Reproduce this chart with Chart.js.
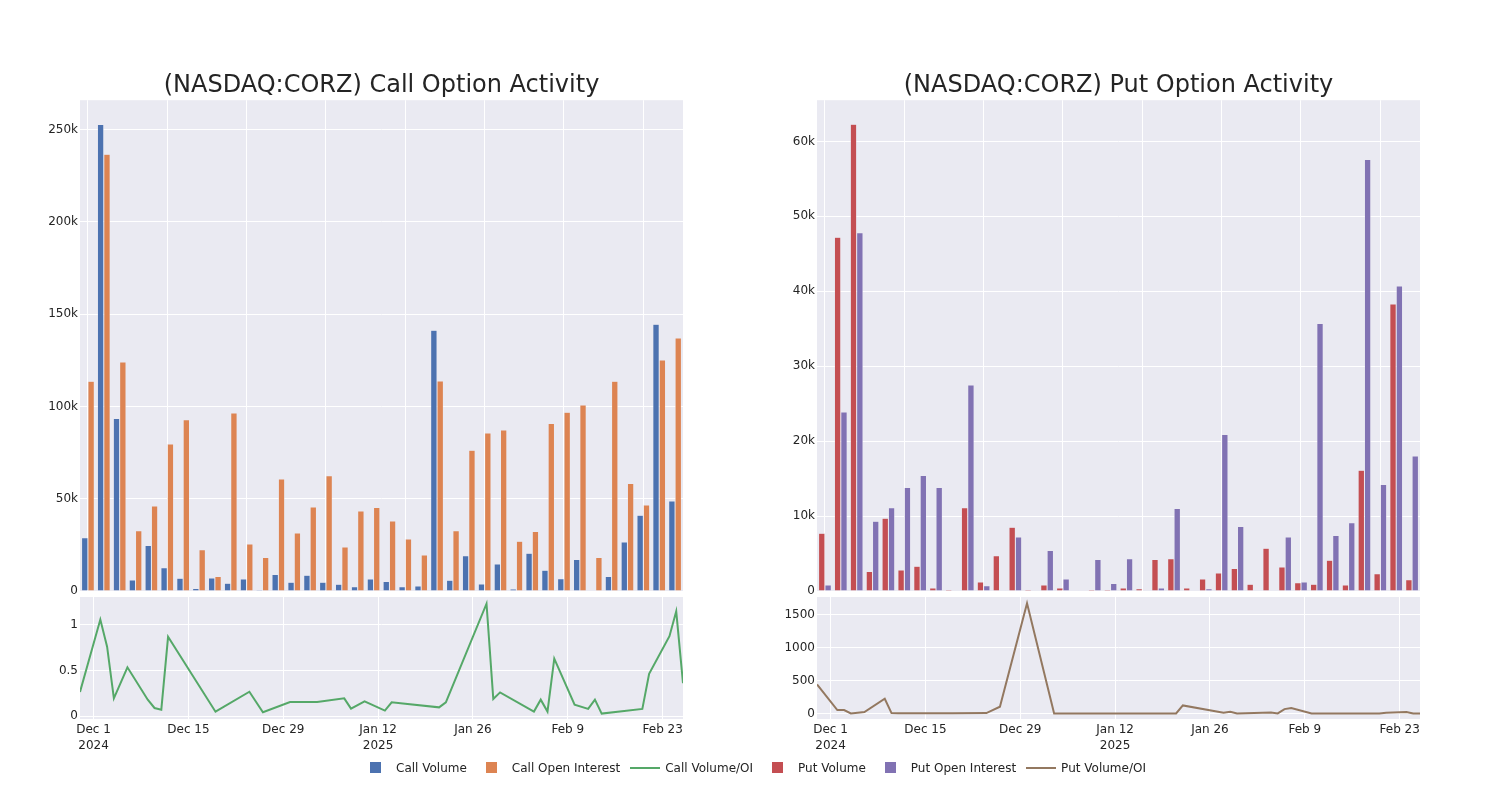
<!DOCTYPE html>
<html lang="en">
<head>
    <meta charset="UTF-8">
    <title>(NASDAQ:CORZ) Option Activity</title>
    <style>
        body {
            margin: 0;
            background: #fff;
            font-family: "DejaVu Sans", sans-serif;
            color: #242424;
        }

        #page {
            position: relative;
            width: 1500px;
            height: 800px;
        }

        canvas {
            position: absolute;
        }

        #legend {
            position: absolute;
            left: 356px;
            top: 758px;
            height: 20px;
            display: flex;
            align-items: center;
            font-size: 12px;
            white-space: nowrap;
        }

        .item {
            display: flex;
            align-items: center;
            margin-right: 5px;
        }

        .sym {
            position: relative;
            width: 40px;
            height: 16px;
        }

        .sym i {
            position: absolute;
        }

        .sym i.box {
            left: 14px;
            top: 2px;
            width: 11px;
            height: 11px;
        }

        .sym i.line {
            left: 5px;
            top: 7px;
            width: 30px;
            height: 2px;
        }
    </style>
</head>
<body>
    <div id="page">
        <canvas id="callBars" width="700" height="560" style="left:0;top:50px"></canvas>
        <canvas id="callLine" width="700" height="190" style="left:0;top:570px"></canvas>
        <canvas id="putBars" width="700" height="560" style="left:737px;top:50px"></canvas>
        <canvas id="putLine" width="700" height="190" style="left:737px;top:570px"></canvas>
        <div id="legend"></div>
    </div>

    <script src="https://cdn.jsdelivr.net/npm/chart.js"></script>
    <script>
        // trading dates shown in the charts
        const dates = [
            '2024-11-29', '2024-12-02', '2024-12-03', '2024-12-04', '2024-12-06', '2024-12-09',
            '2024-12-10', '2024-12-11', '2024-12-12', '2024-12-19', '2024-12-24', '2024-12-26',
            '2024-12-30', '2025-01-03', '2025-01-07', '2025-01-08', '2025-01-10', '2025-01-13',
            '2025-01-14', '2025-01-16', '2025-01-21', '2025-01-22', '2025-01-28', '2025-01-29',
            '2025-01-30', '2025-02-04', '2025-02-05', '2025-02-06', '2025-02-07', '2025-02-10',
            '2025-02-12', '2025-02-13', '2025-02-14', '2025-02-20', '2025-02-21', '2025-02-24',
            '2025-02-25', '2025-02-26'
        ];

        const callVolume = [
            28900, 252700, 93400, 6000, 24700, 12600, 6900, 1300, 7000, 4200, 6500, 500,
            9000, 4700, 8500, 4700, 3600, 2300, 6500, 5100, 2300, 2700, 141200, 5800,
            19100, 3800, 14600, 1100, 20400, 11200, 6700, 17000, 400, 7800, 26500, 41000,
            144500, 48800
        ];
        const callOpenInterest = [
            113600, 236600, 124100, 32700, 46100, 79600, 92800, 22400, 7900, 96400, 25500, 18100,
            60700, 31400, 45500, 62500, 23800, 43300, 45300, 37900, 28200, 19500, 113800, 32700,
            76200, 85600, 87200, 26900, 32300, 90700, 96800, 100800, 18100, 113600, 58300, 46600,
            125200, 137100
        ];
        const callRatio = [
            0.264, 1.054, 0.758, 0.195, 0.534, 0.18, 0.09, 0.072, 0.866, 0.05, 0.267, 0.043,
            0.155, 0.155, 0.195, 0.083, 0.162, 0.062, 0.152, 0.135, 0.097, 0.152, 1.227, 0.188,
            0.26, 0.051, 0.181, 0.051, 0.628, 0.127, 0.08, 0.181, 0.029, 0.08, 0.462, 0.873,
            1.144, 0.361
        ];

        const putVolume = [
            7700, 47200, 62300, 2600, 9700, 2800, 3300, 400, 200, 11100, 1200, 4700,
            8500, 200, 800, 400, 100, 200, 200, 400, 300, 4200, 4300, 400,
            1600, 2400, 3000, 900, 5700, 3200, 1100, 900, 4100, 800, 16100, 2300,
            38300, 1500
        ];
        const putOpenInterest = [
            800, 23900, 47800, 9300, 11100, 13800, 15400, 13800, 50, 27500, 700, 50,
            7200, 100, 5400, 1600, 100, 4200, 1000, 4300, 100, 400, 11000, 0,
            300, 20900, 8600, 0, 50, 7200, 1200, 35700, 7400, 9100, 57600, 14200,
            40700, 18000
        ];
        const putRatio = [
            443, 56, 56, 5, 25, 227, 10, 8, 8, 8, 10, 106,
            1672, 5, 5, 5, 5, 5, 5, 5, 5, 126, 15, 30,
            5, 20, 5, 70, 85, 5, 5, 5, 5, 5, 15, 25,
            3, 3
        ];

        const callBarTicks = [0, 50000, 100000, 150000, 200000, 250000];
        const putBarTicks = [0, 10000, 20000, 30000, 40000, 50000, 60000];
        const callLineTicks = [0, 0.5, 1];
        const putLineTicks = [0, 500, 1000, 1500];
        const dateTicks = ['2024-12-01', '2024-12-15', '2024-12-29', '2025-01-12', '2025-01-26', '2025-02-09', '2025-02-23'];

        const colors = {
            callVolume: 'rgb(76,114,176)',
            callOI: 'rgb(221,132,82)',
            callRatio: 'rgb(85,168,104)',
            putVolume: 'rgb(196,78,82)',
            putOI: 'rgb(129,114,179)',
            putRatio: 'rgb(147,120,96)'
        };

        const textColor = 'rgb(36,36,36)';
        const plotColor = 'rgb(234,234,242)';
        Chart.defaults.font.family = '"DejaVu Sans", sans-serif';
        Chart.defaults.font.size = 12;
        Chart.defaults.color = textColor;

        const DAY = 86400000;
        const origin = Date.UTC(2024, 11, 1);
        const toDay = d => (Date.parse(d + 'T00:00:00Z') - origin) / DAY;
        const months = ['Jan', 'Feb', 'Mar', 'Apr', 'May', 'Jun', 'Jul', 'Aug', 'Sep', 'Oct', 'Nov', 'Dec'];

        function dayLabel(v) {
            const d = new Date(origin + v * DAY);
            const text = months[d.getUTCMonth()] + ' ' + d.getUTCDate();
            if (v === 0 || d.getUTCMonth() === 0 && d.getUTCDate() <= 14) {
                return [text, String(d.getUTCFullYear())];
            }
            return text;
        }

        // grey plot area like the plotly seaborn theme
        const plotBg = {
            id: 'plotBg',
            beforeDraw(chart) {
                const { ctx, chartArea: a } = chart;
                ctx.save();
                ctx.fillStyle = plotColor;
                ctx.fillRect(a.left, a.top, a.right - a.left, a.bottom - a.top);
                ctx.restore();
            }
        };

        function yAxis(min, max, ticks, fmt) {
            return {
                min: min,
                max: max,
                afterBuildTicks: s => { s.ticks = ticks.map(v => ({ value: v })); },
                afterFit: s => { s.width = 80; },
                grid: { color: '#fff', lineWidth: 1, drawTicks: false },
                border: { display: false },
                ticks: { padding: 2, callback: fmt }
            };
        }

        const kFormat = v => v === 0 ? '0' : (v / 1000) + 'k';

        function barChart(id, title, vol, oi, volLabel, oiLabel, volColor, oiColor, max, ticks) {
            return new Chart(document.getElementById(id), {
                type: 'bar',
                data: {
                    labels: dates,
                    datasets: [
                        { label: volLabel, data: vol, backgroundColor: volColor, borderColor: plotColor, borderWidth: 0.5 },
                        { label: oiLabel, data: oi, backgroundColor: oiColor, borderColor: plotColor, borderWidth: 0.5 }
                    ]
                },
                options: {
                    responsive: false,
                    animation: false,
                    layout: { padding: { left: 0, right: 17, top: 0, bottom: 19 } },
                    datasets: { bar: { categoryPercentage: 0.8, barPercentage: 1 } },
                    plugins: {
                        legend: { display: false },
                        tooltip: { enabled: false },
                        title: {
                            display: true,
                            text: title,
                            fullSize: false,
                            color: textColor,
                            font: { size: 24, weight: 'normal' },
                            padding: { top: 21.4, bottom: 0 }
                        }
                    },
                    scales: {
                        x: {
                            afterFit: s => { s.height = 0; },
                            grid: {
                                offset: false,
                                drawTicks: false,
                                color: c => c.index % 5 === 0 ? '#fff' : 'rgba(0,0,0,0)'
                            },
                            border: { display: false },
                            ticks: { display: false, autoSkip: false }
                        },
                        y: yAxis(0, max, ticks, kFormat)
                    }
                },
                plugins: [plotBg]
            });
        }

        function lineChart(id, label, values, color, min, max, ticks) {
            return new Chart(document.getElementById(id), {
                type: 'line',
                data: {
                    datasets: [{
                        label: label,
                        data: dates.map((d, i) => ({ x: toDay(d), y: values[i] })),
                        borderColor: color,
                        backgroundColor: color,
                        borderWidth: 2,
                        pointRadius: 0,
                        tension: 0
                    }]
                },
                options: {
                    responsive: false,
                    animation: false,
                    layout: { padding: { left: 0, right: 17, top: 27, bottom: 0 } },
                    plugins: { legend: { display: false }, tooltip: { enabled: false } },
                    scales: {
                        x: {
                            type: 'linear',
                            min: -2,
                            max: 87,
                            afterBuildTicks: s => { s.ticks = dateTicks.map(d => ({ value: toDay(d) })); },
                            afterFit: s => { s.height = 41; },
                            grid: { color: '#fff', drawTicks: false },
                            border: { display: false },
                            ticks: { padding: 3, maxRotation: 0, font: { lineHeight: 1.35 }, callback: v => dayLabel(v) }
                        },
                        y: yAxis(min, max, ticks, v => String(v))
                    }
                },
                plugins: [plotBg]
            });
        }

        barChart('callBars', '(NASDAQ:CORZ) Call Option Activity', callVolume, callOpenInterest,
            'Call Volume', 'Call Open Interest', colors.callVolume, colors.callOI, 265900, callBarTicks);
        lineChart('callLine', 'Call Volume/OI', callRatio, colors.callRatio, -0.03, 1.3, callLineTicks);
        barChart('putBars', '(NASDAQ:CORZ) Put Option Activity', putVolume, putOpenInterest,
            'Put Volume', 'Put Open Interest', colors.putVolume, colors.putOI, 65500, putBarTicks);
        lineChart('putLine', 'Put Volume/OI', putRatio, colors.putRatio, -80, 1767, putLineTicks);

        // shared legend under both panels
        const legendItems = [
            ['Call Volume', colors.callVolume, 'box'],
            ['Call Open Interest', colors.callOI, 'box'],
            ['Call Volume/OI', colors.callRatio, 'line'],
            ['Put Volume', colors.putVolume, 'box'],
            ['Put Open Interest', colors.putOI, 'box'],
            ['Put Volume/OI', colors.putRatio, 'line']
        ];
        const legend = document.getElementById('legend');
        legendItems.forEach(([text, color, kind]) => {
            const item = document.createElement('span');
            item.className = 'item';
            item.innerHTML = `<span class="sym"><i class="${kind}" style="background:${color}"></i></span><span>${text}</span>`;
            legend.appendChild(item);
        });
    </script>
</body>
</html>
